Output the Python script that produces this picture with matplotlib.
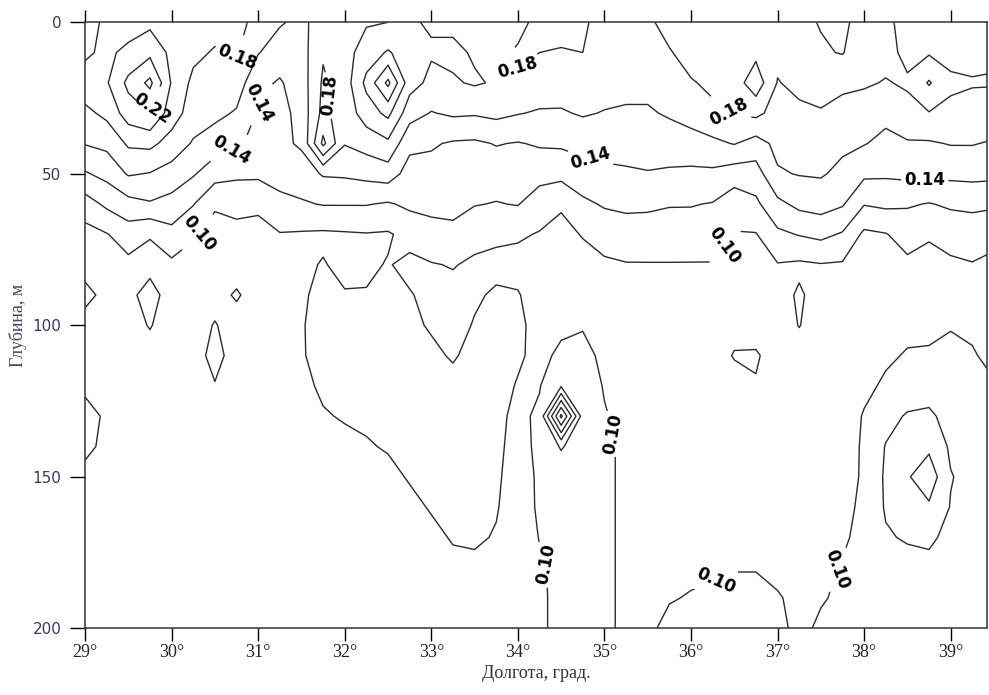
import numpy as np
import matplotlib
matplotlib.use('Agg')
import matplotlib.pyplot as plt

# grid: longitude (deg) and depth (m)
lon = np.arange(29.0, 39.51, 0.25)
depth = np.arange(0, 201, 10)

conc = [
    [0.210, 0.203, 0.192, 0.175, 0.161, 0.138, 0.111, 0.093, 0.092, 0.106, 0.092, 0.090, 0.096, 0.107, 0.105, 0.094, 0.091, 0.090, 0.090, 0.090, 0.090],  # 29.00
    [0.195, 0.196, 0.198, 0.185, 0.165, 0.146, 0.124, 0.099, 0.093, 0.094, 0.092, 0.091, 0.093, 0.097, 0.095, 0.092, 0.090, 0.090, 0.090, 0.090, 0.090],  # 29.25
    [0.190, 0.205, 0.225, 0.210, 0.183, 0.162, 0.133, 0.110, 0.095, 0.096, 0.094, 0.092, 0.091, 0.091, 0.091, 0.090, 0.090, 0.090, 0.090, 0.090, 0.090],  # 29.50
    [0.195, 0.215, 0.245, 0.220, 0.185, 0.159, 0.138, 0.101, 0.095, 0.106, 0.101, 0.094, 0.092, 0.091, 0.090, 0.090, 0.090, 0.090, 0.090, 0.090, 0.090],  # 29.75
    [0.190, 0.195, 0.198, 0.190, 0.172, 0.152, 0.133, 0.114, 0.096, 0.093, 0.092, 0.091, 0.090, 0.090, 0.090, 0.090, 0.090, 0.090, 0.090, 0.090, 0.090],  # 30.00
    [0.190, 0.185, 0.175, 0.170, 0.158, 0.142, 0.121, 0.102, 0.093, 0.092, 0.093, 0.092, 0.091, 0.090, 0.090, 0.090, 0.090, 0.090, 0.090, 0.090, 0.090],  # 30.25
    [0.188, 0.178, 0.172, 0.165, 0.150, 0.128, 0.102, 0.094, 0.092, 0.094, 0.101, 0.106, 0.099, 0.093, 0.091, 0.090, 0.090, 0.090, 0.090, 0.090, 0.090],  # 30.50
    [0.190, 0.182, 0.170, 0.158, 0.143, 0.124, 0.105, 0.095, 0.092, 0.102, 0.093, 0.092, 0.091, 0.090, 0.090, 0.090, 0.090, 0.090, 0.090, 0.090, 0.090],  # 30.75
    [0.170, 0.161, 0.145, 0.138, 0.134, 0.124, 0.103, 0.095, 0.092, 0.092, 0.091, 0.090, 0.090, 0.090, 0.090, 0.090, 0.090, 0.090, 0.090, 0.090, 0.090],  # 31.00
    [0.162, 0.150, 0.138, 0.132, 0.135, 0.127, 0.115, 0.099, 0.093, 0.092, 0.092, 0.092, 0.091, 0.090, 0.090, 0.090, 0.090, 0.090, 0.090, 0.090, 0.090],  # 31.25
    [0.155, 0.152, 0.150, 0.148, 0.143, 0.130, 0.118, 0.098, 0.097, 0.098, 0.099, 0.099, 0.097, 0.094, 0.092, 0.091, 0.090, 0.090, 0.090, 0.090, 0.090],  # 31.50
    [0.170, 0.178, 0.183, 0.186, 0.205, 0.142, 0.121, 0.097, 0.101, 0.104, 0.105, 0.104, 0.102, 0.099, 0.094, 0.092, 0.091, 0.090, 0.090, 0.090, 0.090],  # 31.75
    [0.172, 0.172, 0.170, 0.168, 0.161, 0.143, 0.121, 0.098, 0.096, 0.101, 0.103, 0.104, 0.103, 0.101, 0.097, 0.093, 0.091, 0.090, 0.090, 0.090, 0.090],  # 32.00
    [0.178, 0.190, 0.205, 0.190, 0.168, 0.146, 0.121, 0.099, 0.097, 0.101, 0.104, 0.105, 0.104, 0.102, 0.099, 0.094, 0.091, 0.090, 0.090, 0.090, 0.090],  # 32.25
    [0.180, 0.202, 0.245, 0.205, 0.176, 0.150, 0.118, 0.098, 0.101, 0.104, 0.105, 0.105, 0.104, 0.103, 0.101, 0.097, 0.094, 0.091, 0.090, 0.090, 0.090],  # 32.50
    [0.182, 0.190, 0.188, 0.168, 0.145, 0.132, 0.124, 0.106, 0.096, 0.101, 0.102, 0.104, 0.105, 0.104, 0.103, 0.101, 0.097, 0.094, 0.091, 0.090, 0.090],  # 32.75
    [0.178, 0.182, 0.175, 0.159, 0.142, 0.134, 0.126, 0.112, 0.099, 0.096, 0.099, 0.102, 0.104, 0.105, 0.104, 0.103, 0.101, 0.097, 0.094, 0.091, 0.090],  # 33.00
    [0.176, 0.184, 0.178, 0.163, 0.138, 0.133, 0.127, 0.114, 0.101, 0.095, 0.095, 0.099, 0.103, 0.105, 0.105, 0.104, 0.103, 0.101, 0.097, 0.094, 0.091],  # 33.25
    [0.170, 0.178, 0.182, 0.162, 0.137, 0.132, 0.121, 0.106, 0.097, 0.098, 0.101, 0.103, 0.104, 0.105, 0.105, 0.104, 0.103, 0.102, 0.097, 0.094, 0.091],  # 33.50
    [0.165, 0.176, 0.178, 0.165, 0.141, 0.130, 0.119, 0.103, 0.096, 0.102, 0.104, 0.105, 0.105, 0.104, 0.103, 0.102, 0.101, 0.099, 0.095, 0.092, 0.091],  # 33.75
    [0.175, 0.182, 0.178, 0.161, 0.139, 0.131, 0.121, 0.102, 0.095, 0.101, 0.103, 0.102, 0.099, 0.096, 0.095, 0.094, 0.093, 0.092, 0.092, 0.092, 0.092],  # 34.00
    [0.185, 0.180, 0.172, 0.158, 0.142, 0.128, 0.108, 0.099, 0.094, 0.093, 0.095, 0.096, 0.099, 0.103, 0.103, 0.102, 0.102, 0.1005, 0.098, 0.097, 0.097],  # 34.25
    [0.190, 0.178, 0.170, 0.158, 0.143, 0.126, 0.102, 0.095, 0.093, 0.094, 0.097, 0.103, 0.118, 0.205, 0.122, 0.107, 0.104, 0.104, 0.104, 0.105, 0.105],  # 34.50
    [0.182, 0.180, 0.176, 0.162, 0.146, 0.132, 0.116, 0.101, 0.094, 0.095, 0.099, 0.104, 0.108, 0.110, 0.108, 0.105, 0.103, 0.102, 0.102, 0.102, 0.102],  # 34.75
    [0.175, 0.172, 0.168, 0.159, 0.147, 0.136, 0.122, 0.108, 0.097, 0.094, 0.095, 0.097, 0.099, 0.101, 0.103, 0.103, 0.103, 0.103, 0.103, 0.103, 0.103],  # 35.00
    [0.170, 0.168, 0.165, 0.158, 0.146, 0.138, 0.124, 0.111, 0.099, 0.093, 0.093, 0.094, 0.095, 0.096, 0.097, 0.097, 0.097, 0.097, 0.097, 0.097, 0.097],  # 35.25
    [0.175, 0.170, 0.165, 0.158, 0.148, 0.139, 0.123, 0.112, 0.099, 0.093, 0.092, 0.092, 0.092, 0.092, 0.092, 0.093, 0.093, 0.094, 0.095, 0.096, 0.097],  # 35.50
    [0.190, 0.178, 0.170, 0.162, 0.151, 0.137, 0.121, 0.112, 0.099, 0.093, 0.092, 0.092, 0.092, 0.092, 0.092, 0.093, 0.094, 0.095, 0.097, 0.099, 0.104],  # 35.75
    [0.199, 0.190, 0.178, 0.168, 0.152, 0.136, 0.121, 0.111, 0.099, 0.093, 0.092, 0.092, 0.092, 0.092, 0.092, 0.093, 0.094, 0.096, 0.097, 0.101, 0.105],  # 36.00
    [0.198, 0.192, 0.185, 0.175, 0.156, 0.136, 0.119, 0.110, 0.099, 0.093, 0.093, 0.093, 0.092, 0.092, 0.092, 0.093, 0.094, 0.096, 0.098, 0.102, 0.105],  # 36.25
    [0.195, 0.190, 0.190, 0.181, 0.161, 0.130, 0.108, 0.099, 0.093, 0.093, 0.095, 0.101, 0.094, 0.092, 0.092, 0.093, 0.094, 0.096, 0.0995, 0.103, 0.105],  # 36.50
    [0.190, 0.195, 0.212, 0.185, 0.152, 0.131, 0.116, 0.099, 0.094, 0.093, 0.094, 0.1015, 0.099, 0.093, 0.092, 0.093, 0.094, 0.096, 0.0995, 0.103, 0.104],  # 36.75
    [0.190, 0.185, 0.179, 0.172, 0.165, 0.158, 0.135, 0.116, 0.099, 0.094, 0.093, 0.094, 0.093, 0.092, 0.092, 0.093, 0.094, 0.095, 0.097, 0.101, 0.103],  # 37.00
    [0.196, 0.190, 0.185, 0.176, 0.170, 0.161, 0.145, 0.121, 0.097, 0.102, 0.1005, 0.094, 0.093, 0.092, 0.092, 0.093, 0.094, 0.095, 0.096, 0.097, 0.097],  # 37.25
    [0.201, 0.198, 0.190, 0.178, 0.172, 0.162, 0.148, 0.125, 0.099, 0.094, 0.093, 0.093, 0.093, 0.093, 0.093, 0.093, 0.094, 0.095, 0.097, 0.099, 0.102],  # 37.50
    [0.205, 0.201, 0.185, 0.172, 0.164, 0.155, 0.142, 0.118, 0.098, 0.094, 0.093, 0.093, 0.093, 0.093, 0.093, 0.094, 0.096, 0.098, 0.101, 0.102, 0.104],  # 37.75
    [0.190, 0.188, 0.182, 0.172, 0.161, 0.144, 0.121, 0.096, 0.093, 0.093, 0.093, 0.094, 0.097, 0.101, 0.102, 0.102, 0.103, 0.104, 0.105, 0.105, 0.106],  # 38.00
    [0.185, 0.185, 0.179, 0.165, 0.155, 0.143, 0.124, 0.099, 0.094, 0.093, 0.095, 0.098, 0.102, 0.113, 0.121, 0.123, 0.122, 0.118, 0.110, 0.107, 0.106],  # 38.25
    [0.172, 0.176, 0.182, 0.175, 0.158, 0.145, 0.122, 0.108, 0.096, 0.094, 0.097, 0.101, 0.108, 0.122, 0.130, 0.138, 0.132, 0.122, 0.113, 0.108, 0.106],  # 38.50
    [0.170, 0.178, 0.202, 0.179, 0.158, 0.145, 0.119, 0.102, 0.094, 0.094, 0.098, 0.101, 0.110, 0.124, 0.136, 0.152, 0.137, 0.124, 0.114, 0.109, 0.107],  # 38.75
    [0.170, 0.175, 0.183, 0.176, 0.161, 0.145, 0.123, 0.107, 0.097, 0.096, 0.099, 0.104, 0.108, 0.112, 0.117, 0.121, 0.119, 0.114, 0.110, 0.107, 0.106],  # 39.00
    [0.172, 0.176, 0.181, 0.175, 0.161, 0.146, 0.124, 0.110, 0.099, 0.095, 0.098, 0.101, 0.103, 0.107, 0.111, 0.114, 0.113, 0.111, 0.108, 0.106, 0.105],  # 39.25
    [0.175, 0.178, 0.181, 0.173, 0.158, 0.145, 0.123, 0.105, 0.096, 0.095, 0.096, 0.097, 0.101, 0.104, 0.105, 0.105, 0.105, 0.104, 0.104, 0.104, 0.104],  # 39.50
]

plain_levels = [0.12, 0.16, 0.20, 0.24]
label_levels = [0.10, 0.14, 0.18, 0.22]
# where the labels sit (lon, depth)
label_pos = [
    (29.91, 30), (30.66, 20), (31.89, 24), (34.14, 21), (36.48, 28),
    (30.70, 43), (31.07, 28), (34.87, 42), (38.70, 51),
    (30.33, 70), (36.41, 74), (35.06, 136), (34.31, 179), (36.27, 183), (37.74, 181),
]
xticks = list(range(29, 40))
yticks = [0, 50, 100, 150, 200]

Z = np.array(conc).T

fig = plt.figure(figsize=(9.89, 6.95), dpi=100)
ax = fig.add_axes([0.086, 0.096, 0.912, 0.872])

line_kw = dict(colors='#2b2b2b', linewidths=1.0)
ax.contour(lon, depth, Z, levels=plain_levels, **line_kw)
cs = ax.contour(lon, depth, Z, levels=label_levels, **line_kw)
txts = ax.clabel(cs, manual=label_pos, inline=True, fmt='%.2f',
                 fontsize=12, colors='black')
for t in txts:
    t.set_fontweight('bold')

ax.set_xlim(29, 39.42)
ax.set_ylim(200, 0)

ax.set_xticks(xticks)
ax.set_xticklabels([f'{v}°' for v in xticks], fontfamily='Liberation Serif', fontsize=13)
ax.set_yticks(yticks)
ax.set_yticklabels([str(v) for v in yticks], fontfamily='DejaVu Sans', fontsize=11,
                   color='#3a3a62')

ax.tick_params(axis='x', which='both', bottom=True, top=True, direction='out',
               length=9, width=1, colors='black', pad=2)
ax.tick_params(axis='x', labelcolor='#222222')
ax.tick_params(axis='y', left=True, right=False, direction='out', length=11,
               width=1, pad=6)

for s in ax.spines.values():
    s.set_linewidth(1.1)
    s.set_color('#333333')

ax.set_xlabel('Долгота, град.', fontfamily='Liberation Serif', fontsize=13,
              color='#333333', labelpad=3)
ax.set_ylabel('Глубина, м', fontfamily='Liberation Serif', fontsize=13,
              color='#444466', labelpad=4)

fig.savefig('out.png', dpi=100)
